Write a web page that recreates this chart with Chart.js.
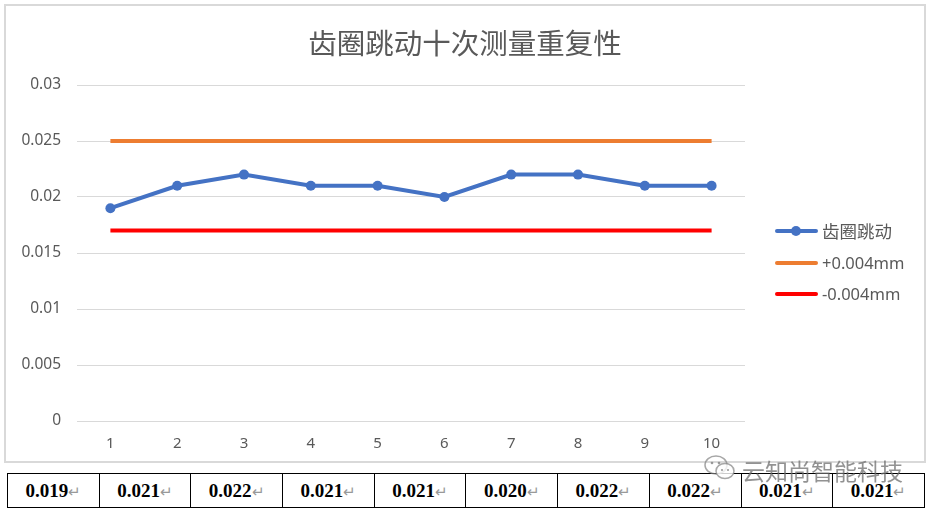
<!DOCTYPE html>
<html>
<head>
<meta charset="utf-8">
<script src="https://cdn.jsdelivr.net/npm/chart.js@4.4.1/dist/chart.umd.min.js"></script>
<style>
    body { margin: 0; background: #fff; width: 932px; height: 512px; position: relative; overflow: hidden; }
    #box { position: absolute; left: 4px; top: 4px; width: 918px; height: 455px; border: 2px solid #d9d9d9; }
    #box canvas { position: absolute; left: 0; top: 0; }
    #title { position: absolute; left: 6px; width: 918px; top: 21px; text-align: center; line-height: 30px;
             font: 28.5px 'Noto Sans CJK SC', sans-serif; color: #595959; }
    .legend { position: absolute; left: 775px; font: 16.5px 'Noto Sans', 'Noto Sans CJK SC', sans-serif; color: #595959; }
    .legend .item { position: absolute; left: 0; height: 20px; white-space: nowrap; }
    .legend .swatch { position: absolute; left: 0; top: 8px; width: 43px; height: 4px; border-radius: 2px; }
    .legend .dot { position: absolute; left: 16px; top: 5px; width: 10px; height: 10px; border-radius: 50%; }
    .legend .label { position: absolute; left: 47px; top: -2px; }
    .legend .label.cjk { font-size: 17.5px; top: -3px; }
    table { position: absolute; left: 7px; top: 473px; width: 918px; border-collapse: collapse; table-layout: fixed; }
    td { height: 33px; border: 1px solid #000; padding: 0; text-align: center;
         font: bold 19px 'Liberation Serif', 'Times New Roman', serif; color: #000; }
    td .ret { font-weight: normal; color: #999; font-size: 15px; }
    .mark { position: absolute; font: 23px 'Noto Sans CJK SC', sans-serif; color: rgba(110,110,110,0.75); }
</style>
</head>
<body>
<div id="box"><canvas id="chart" width="918" height="455"></canvas></div>
<div id="title"></div>
<div class="legend" id="legend"></div>
<table><tr id="row"></tr></table>
<div class="mark" style="left:703px; top:454px; width:30px; height:24px;">
    <svg width="34" height="28" viewBox="0 0 34 28">
        <ellipse cx="13" cy="11" rx="11" ry="9" fill="none" stroke="rgba(130,130,130,0.7)" stroke-width="1.5"/>
        <ellipse cx="22" cy="17" rx="9" ry="7.5" fill="rgba(255,255,255,0.8)" stroke="rgba(130,130,130,0.7)" stroke-width="1.5"/>
        <circle cx="9" cy="9" r="1.3" fill="rgba(130,130,130,0.8)"/>
        <circle cx="16" cy="9" r="1.3" fill="rgba(130,130,130,0.8)"/>
        <circle cx="19" cy="16" r="1.1" fill="rgba(130,130,130,0.8)"/>
        <circle cx="25" cy="16" r="1.1" fill="rgba(130,130,130,0.8)"/>
    </svg>
</div>
<div class="mark" style="left:742px; top:453px;">云知尚智能科技</div>
<script>
const chartTitle = '齿圈跳动十次测量重复性';
const categories = ['1', '2', '3', '4', '5', '6', '7', '8', '9', '10'];
const runout = [0.019, 0.021, 0.022, 0.021, 0.021, 0.020, 0.022, 0.022, 0.021, 0.021];
const upperLimit = [0.025, 0.025, 0.025, 0.025, 0.025, 0.025, 0.025, 0.025, 0.025, 0.025];
const lowerLimit = [0.017, 0.017, 0.017, 0.017, 0.017, 0.017, 0.017, 0.017, 0.017, 0.017];
const seriesNames = ['齿圈跳动', '+0.004mm', '-0.004mm'];
const tableValues = ['0.019', '0.021', '0.022', '0.021', '0.021', '0.020', '0.022', '0.022', '0.021', '0.021'];
const yTicks = [0, 0.005, 0.01, 0.015, 0.02, 0.025, 0.03];

const colors = ['#4472C4', '#ED7D31', '#FF0000'];

Chart.defaults.font.family = "'Noto Sans', 'Noto Sans CJK SC', sans-serif";
Chart.defaults.color = '#595959';

document.getElementById('title').textContent = chartTitle;

const ctx = document.getElementById('chart').getContext('2d');
new Chart(ctx, {
    type: 'line',
    data: {
        labels: categories,
        datasets: [
            { label: seriesNames[0], data: runout, borderColor: colors[0], backgroundColor: colors[0],
              borderWidth: 4, pointRadius: 5, pointHoverRadius: 5, pointBorderWidth: 0 },
            { label: seriesNames[1], data: upperLimit, borderColor: colors[1], backgroundColor: colors[1],
              borderWidth: 4, pointRadius: 0 },
            { label: seriesNames[2], data: lowerLimit, borderColor: colors[2], backgroundColor: colors[2],
              borderWidth: 4, pointRadius: 0 }
        ]
    },
    options: {
        responsive: false,
        animation: false,
        layout: { padding: { left: 0, right: 179, top: 79, bottom: 0 } },
        plugins: {
            legend: { display: false },
            tooltip: { enabled: false },
            title: { display: false }
        },
        scales: {
            x: {
                offset: true,
                grid: { display: false },
                border: { display: false },
                ticks: { font: { size: 15 }, padding: 6 },
                afterFit: s => { s.height = 40; }
            },
            y: {
                min: 0,
                max: 0.03,
                afterBuildTicks: s => { s.ticks = yTicks.map(v => ({ value: v })); },
                grid: { color: '#d9d9d9', lineWidth: 1, drawTicks: false },
                border: { display: false },
                ticks: { font: { size: 15.5 }, padding: 16, callback: v => String(Number(v.toFixed(3))) },
                afterFit: s => { s.width = 71; }
            }
        }
    }
});

// legend drawn as html to the right of the plot
const legend = document.getElementById('legend');
const legendTops = [221, 253, 284];
seriesNames.forEach((name, i) => {
    const item = document.createElement('div');
    item.className = 'item';
    item.style.top = legendTops[i] + 'px';
    item.innerHTML = `<span class="swatch" style="background:${colors[i]}"></span>` +
        (i === 0 ? `<span class="dot" style="background:${colors[i]}"></span>` : '') +
        `<span class="label${i === 0 ? ' cjk' : ''}">${name}</span>`;
    legend.appendChild(item);
});

// value table under the chart
const row = document.getElementById('row');
tableValues.forEach(v => {
    const td = document.createElement('td');
    td.innerHTML = `${v}<span class="ret">↵</span>`;
    row.appendChild(td);
});
</script>
</body>
</html>
